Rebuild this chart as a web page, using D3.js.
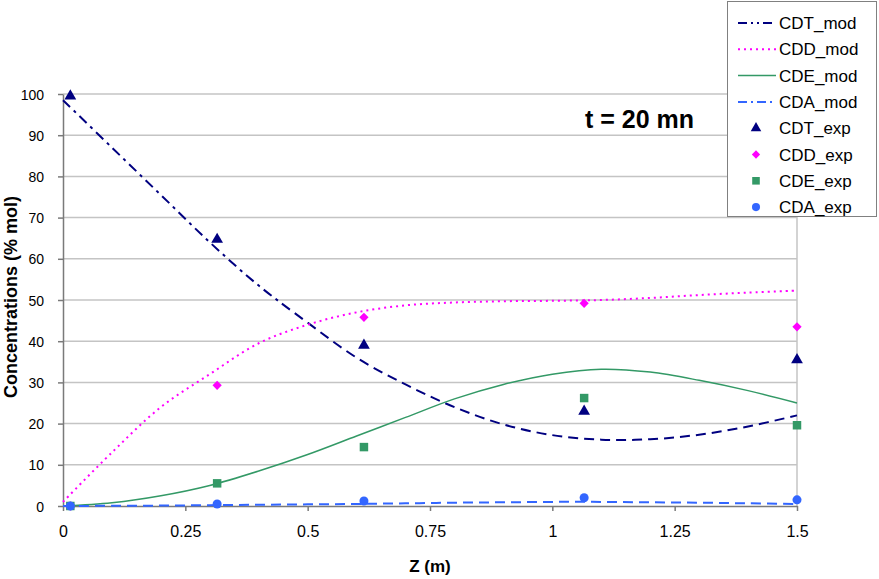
<!DOCTYPE html>
<html>
<head>
<meta charset="utf-8">
<script src="https://cdn.jsdelivr.net/npm/d3@7"></script>
<style>
  body { margin: 0; background: #fff; }
  text { font-family: "Liberation Sans", Arial, sans-serif; }
</style>
</head>
<body>
<div id="chart"></div>
<script>
// model curves (Z in m, concentration in % mol)
var zMod = [0, 0.1, 0.2, 0.3, 0.4, 0.5, 0.6, 0.7, 0.8, 0.9, 1.0, 1.1, 1.2, 1.3, 1.4, 1.5];
var cdtMod = [98.5, 87, 75.5, 64, 53.5, 44.5, 36, 29.5, 24, 19.8, 17.2, 16.1, 16.2, 17.3, 19.3, 22];
var cddMod = [1, 13, 24, 32, 39.5, 44, 47, 48.7, 49.4, 49.7, 49.8, 50, 50.5, 51.2, 51.8, 52.3];
var cdeMod = [0, 0.8, 2.5, 5, 8.5, 12.5, 17, 21.5, 26, 29.5, 32, 33.2, 32.5, 30.5, 28, 25];
var cdaMod = [0, 0.05, 0.1, 0.2, 0.3, 0.4, 0.5, 0.65, 0.8, 0.9, 1.0, 1.0, 0.9, 0.8, 0.65, 0.5];

// experimental points
var zExp = [0.015, 0.315, 0.615, 1.065, 1.5];
var cdtExp = [99.5, 64.7, 39, 23, 35.5];
var cddExp = [0, 29.3, 45.8, 49.2, 43.5];
var cdeExp = [0, 5.5, 14.3, 26.2, 19.6];
var cdaExp = [0, 0.5, 1.2, 2, 1.5];

var xTicks = [0, 0.25, 0.5, 0.75, 1, 1.25, 1.5];
var yTicks = [0, 10, 20, 30, 40, 50, 60, 70, 80, 90, 100];

var width = 879, height = 579;
var svg = d3.select("#chart").append("svg")
    .attr("width", width)
    .attr("height", height);

var x = d3.scaleLinear().domain([0, 1.5]).range([63, 797]);
var y = d3.scaleLinear().domain([0, 100]).range([506, 94]);

// gridlines
svg.append("g")
    .selectAll("line")
    .data(yTicks.slice(1))
    .enter()
    .append("line")
    .attr("x1", x(0)).attr("x2", x(1.5))
    .attr("y1", d => y(d)).attr("y2", d => y(d))
    .attr("stroke", "#c4c4c4")
    .attr("stroke-width", 1.5);

// right border of plot area
svg.append("line")
    .attr("x1", x(1.5)).attr("x2", x(1.5))
    .attr("y1", y(100)).attr("y2", y(0))
    .attr("stroke", "#c4c4c4")
    .attr("stroke-width", 1.5);

// axes
var xAxis = svg.append("g")
    .attr("transform", "translate(0," + y(0) + ")")
    .call(d3.axisBottom(x).tickValues(xTicks).tickFormat(d => d).tickSize(5).tickSizeOuter(0));
var yAxis = svg.append("g")
    .attr("transform", "translate(" + x(0) + ",0)")
    .call(d3.axisLeft(y).tickValues(yTicks).tickSize(5).tickSizeOuter(0));

[xAxis, yAxis].forEach(function(ax) {
    ax.selectAll("path, line").attr("stroke", "#7a7a7a").attr("stroke-width", 1.5);
    ax.selectAll("text")
        .attr("fill", "#000")
        .style("font-family", "Liberation Sans, Arial, sans-serif");
});
xAxis.selectAll("text").style("font-size", "16px").attr("y", 31).attr("dy", 0);
yAxis.selectAll("text").style("font-size", "14px").attr("x", -19).attr("dy", "0.36em");

// axis titles
svg.append("text")
    .attr("x", x(0.75))
    .attr("y", 572)
    .attr("text-anchor", "middle")
    .style("font-size", "17px")
    .style("font-weight", "bold")
    .text("Z (m)");

svg.append("text")
    .attr("transform", "translate(17,297) rotate(-90)")
    .attr("text-anchor", "middle")
    .style("font-size", "18px")
    .style("font-weight", "bold")
    .text("Concentrations (% mol)");

// model lines
var series = [
    { name: "CDT_mod", vals: cdtMod, color: "#000080", dash: "10,5,3,5", legendDash: "9,4,2,4,2,4", width: 2 },
    { name: "CDD_mod", vals: cddMod, color: "#ff00ff", dash: "2,4", legendDash: "2,4", width: 2 },
    { name: "CDE_mod", vals: cdeMod, color: "#339966", dash: null, legendDash: null, width: 1.5 },
    { name: "CDA_mod", vals: cdaMod, color: "#3366ff", dash: "10,6", legendDash: "9,4,2,4", width: 2 }
];

var line = d3.line()
    .x(d => x(d[0]))
    .y(d => y(d[1]))
    .curve(d3.curveCatmullRom);

series.forEach(function(s, k) {
    var pts = zMod.map((z, i) => [z, s.vals[i]]);
    var p = svg.append("path")
        .datum(pts)
        .attr("d", line)
        .attr("fill", "none")
        .attr("stroke", s.color)
        .attr("stroke-width", s.width)
        .attr("stroke-dasharray", s.dash);
    if (k === 0) {
        // dash-dot at the start, plain dashes further on
        var node = p.node();
        var total = node.getTotalLength();
        var cut = 0.33 * total;
        var pattern = [];
        var len = 0;
        while (len < cut) { pattern.push(10, 5, 3, 5); len += 23; }
        pattern.push(0, 0);
        while (len < total + 20) { pattern.push(10, 6); len += 16; }
        p.attr("stroke-dasharray", pattern.join(","));
    }
});

// experimental markers
var diamond = {
    draw: function(ctx, size) {
        var r = Math.sqrt(size) / 2 * 1.25;
        ctx.moveTo(0, -r); ctx.lineTo(r, 0); ctx.lineTo(0, r); ctx.lineTo(-r, 0); ctx.closePath();
    }
};
var markers = [
    { name: "CDT_exp", vals: cdtExp, color: "#000080", shape: d3.symbolTriangle, size: 60 },
    { name: "CDD_exp", vals: cddExp, color: "#ff00ff", shape: diamond, size: 55 },
    { name: "CDE_exp", vals: cdeExp, color: "#339966", shape: d3.symbolSquare, size: 72 },
    { name: "CDA_exp", vals: cdaExp, color: "#3366ff", shape: d3.symbolCircle, size: 64 }
];

markers.forEach(function(m) {
    svg.append("g")
        .selectAll("path")
        .data(zExp.map((z, i) => [z, m.vals[i]]))
        .enter()
        .append("path")
        .attr("transform", d => "translate(" + x(d[0]) + "," + y(d[1]) + ")")
        .attr("d", d3.symbol().type(m.shape).size(m.size))
        .attr("fill", m.color);
});

// annotation
svg.append("text")
    .attr("x", 585)
    .attr("y", 128)
    .style("font-size", "25px")
    .style("font-weight", "bold")
    .text("t = 20 mn");

// legend
var legend = svg.append("g");
legend.append("rect")
    .attr("x", 727.5).attr("y", 1.5)
    .attr("width", 149).attr("height", 215)
    .attr("fill", "#fff")
    .attr("stroke", "#808080")
    .attr("stroke-width", 1);

var rowH = 26.3;
series.forEach(function(s, i) {
    var yy = 23 + i * rowH;
    legend.append("line")
        .attr("x1", 738).attr("x2", 776)
        .attr("y1", yy).attr("y2", yy)
        .attr("stroke", s.color)
        .attr("stroke-width", s.width)
        .attr("stroke-dasharray", s.legendDash);
    legend.append("text")
        .attr("x", 779).attr("y", yy + 6)
        .style("font-size", "17px")
        .text(s.name);
});
markers.forEach(function(m, i) {
    var yy = 23 + (i + 4) * rowH;
    legend.append("path")
        .attr("transform", "translate(756," + yy + ")")
        .attr("d", d3.symbol().type(m.shape).size(m.size * 0.8))
        .attr("fill", m.color);
    legend.append("text")
        .attr("x", 779).attr("y", yy + 6)
        .style("font-size", "17px")
        .text(m.name);
});
</script>
</body>
</html>
